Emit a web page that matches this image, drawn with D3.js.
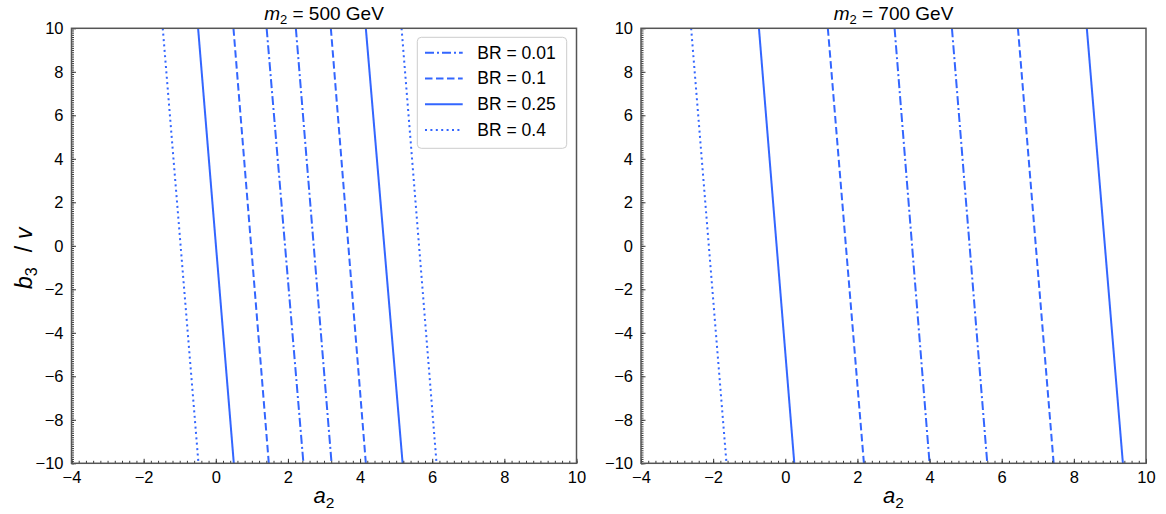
<!DOCTYPE html>
<html>
<head>
<meta charset="utf-8">
<script src="https://cdn.jsdelivr.net/npm/d3@7"></script>
<style>
html,body{margin:0;padding:0;background:#fff;}
svg{display:block;font-family:"Liberation Sans",Arial,Helvetica,sans-serif;}
</style>
</head>
<body>
<svg id="chart" width="1166" height="514"></svg>
<script>
// ---- data ----
const xDomain = [-4, 10];
const yDomain = [-10, 10];
const xTicks = [-4, -2, 0, 2, 4, 6, 8, 10];
const yTicks = [-10, -8, -6, -4, -2, 0, 2, 4, 6, 8, 10];
const yEnds = [10, -10];               // b3/v values where each contour is sampled

const legendBR = [0.01, 0.1, 0.25, 0.4];
const legendLabels = ["BR = 0.01", "BR = 0.1", "BR = 0.25", "BR = 0.4"];

const panelTitles = ["500", "700"];

// m2 = 500 GeV : a2 at b3/v = +10 (top) and -10 (bottom)
const br500 = [0.4, 0.25, 0.1, 0.01, 0.01, 0.1, 0.25, 0.4];
const xTop500 = [-1.47, -0.49, 0.49, 1.41, 2.22, 3.19, 4.16, 5.15];
const xBottom500 = [-0.48, 0.5, 1.47, 2.43, 3.21, 4.16, 5.18, 6.12];

// m2 = 700 GeV
const br700 = [0.4, 0.25, 0.1, 0.01, 0.01, 0.1, 0.25];
const xTop700 = [-2.61, -0.73, 1.18, 3.03, 4.62, 6.45, 8.36];
const xBottom700 = [-1.63, 0.25, 2.18, 4.0, 5.6, 7.44, 9.36];

// ---- styles ----
const lineColor = "#3366ff";
const dashFor = {0.01: "9,3,2,3", 0.1: "7.5,3.5", 0.25: null, 0.4: "2,3.4"};

const svg = d3.select("#chart");
const panels = [
  {left: 71.5, br: br500, top: xTop500, bottom: xBottom500, title: panelTitles[0], legend: true, ylabel: true},
  {left: 641, br: br700, top: xTop700, bottom: xBottom700, title: panelTitles[1], legend: false, ylabel: false}
];
const W = 505, H = 435, T = 28.3;
const fmt = v => (v < 0 ? "\u2212" + Math.abs(v) : String(v));

panels.forEach(p => {
  const g = svg.append("g").attr("transform", `translate(${p.left},${T})`);
  const x = d3.scaleLinear().domain(xDomain).range([0, W]);
  const y = d3.scaleLinear().domain(yDomain).range([H, 0]);

  // contour lines
  const line = d3.line().x(d => x(d[0])).y(d => y(d[1]));
  p.br.forEach((br, i) => {
    const pts = [[p.top[i], yEnds[0]], [p.bottom[i], yEnds[1]]];
    g.append("path").attr("d", line(pts))
      .attr("fill", "none").attr("stroke", lineColor).attr("stroke-width", 2)
      .attr("stroke-dasharray", dashFor[br]);
  });

  // axes (ticks inside)
  const xAxis = d3.axisBottom(x).tickValues(xTicks).tickFormat(fmt).tickSizeInner(-4.5).tickSizeOuter(0).tickPadding(8);
  const yAxis = d3.axisLeft(y).tickValues(yTicks).tickFormat(fmt).tickSizeInner(-4.5).tickSizeOuter(0).tickPadding(8);
  const xMinor = d3.axisBottom(x).tickValues(d3.range(-4, 10.001, 0.2)).tickFormat("").tickSizeInner(-2.5).tickSizeOuter(0);
  const yMinor = d3.axisLeft(y).tickValues(d3.range(-10, 10.001, 0.1)).tickFormat("").tickSizeInner(-2.5).tickSizeOuter(0);

  const gx = g.append("g").attr("transform", `translate(0,${H})`).call(xAxis);
  const gy = g.append("g").call(yAxis);
  const gxm = g.append("g").attr("transform", `translate(0,${H})`).call(xMinor);
  const gym = g.append("g").call(yMinor);
  [gx, gy, gxm, gym].forEach(a => {
    a.select(".domain").remove();
    a.selectAll("line").attr("stroke", "#222").attr("stroke-width", 0.9);
    a.selectAll("text").attr("fill", "#000").style("font-size", "16.5px")
      .style("font-family", '"Liberation Sans",Arial,sans-serif');
  });

  // frame
  g.append("rect").attr("x", 0).attr("y", 0).attr("width", W).attr("height", H)
    .attr("fill", "none").attr("stroke", "#555").attr("stroke-width", 1.5);

  // title
  const t = g.append("text").attr("x", W / 2).attr("y", -8).attr("text-anchor", "middle")
    .style("font-size", "19px");
  t.append("tspan").style("font-style", "italic").text("m");
  t.append("tspan").attr("dy", 4).style("font-size", "13px").text("2");
  t.append("tspan").attr("dy", -4).text(" = " + p.title + " GeV");

  // x label
  const xl = g.append("text").attr("x", W / 2).attr("y", H + 40).attr("text-anchor", "middle")
    .style("font-size", "22px");
  xl.append("tspan").style("font-style", "italic").text("a");
  xl.append("tspan").attr("dy", 5).style("font-size", "15.5px").text("2");

  if (p.ylabel) {
    const yl = g.append("text")
      .attr("transform", `translate(-40,${289 - T}) rotate(-90)`)
      .attr("text-anchor", "start").style("font-size", "23px");
    yl.append("tspan").style("font-style", "italic").text("b");
    yl.append("tspan").attr("dy", 5).style("font-size", "16px").text("3");
    yl.append("tspan").attr("dy", -5).attr("dx", 15).text("/");
    yl.append("tspan").attr("dx", 7).style("font-style", "italic").text("v");
  }

  if (p.legend) {
    const lg = g.append("g").attr("transform", `translate(${417.3 - p.left},${37.3 - T})`);
    lg.append("rect").attr("width", 149.4).attr("height", 111).attr("rx", 4)
      .attr("fill", "#fff").attr("fill-opacity", 0.8).attr("stroke", "#ccc").attr("stroke-width", 1);
    legendBR.forEach((br, i) => {
      const yy = 15.4 + i * 25.8;
      lg.append("line").attr("x1", 7.7).attr("x2", 45.4).attr("y1", yy).attr("y2", yy)
        .attr("stroke", lineColor).attr("stroke-width", 2).attr("stroke-dasharray", dashFor[br]);
      lg.append("text").attr("x", 60).attr("y", yy + 6).style("font-size", "17.5px").text(legendLabels[i]);
    });
  }
});
</script>
</body>
</html>
